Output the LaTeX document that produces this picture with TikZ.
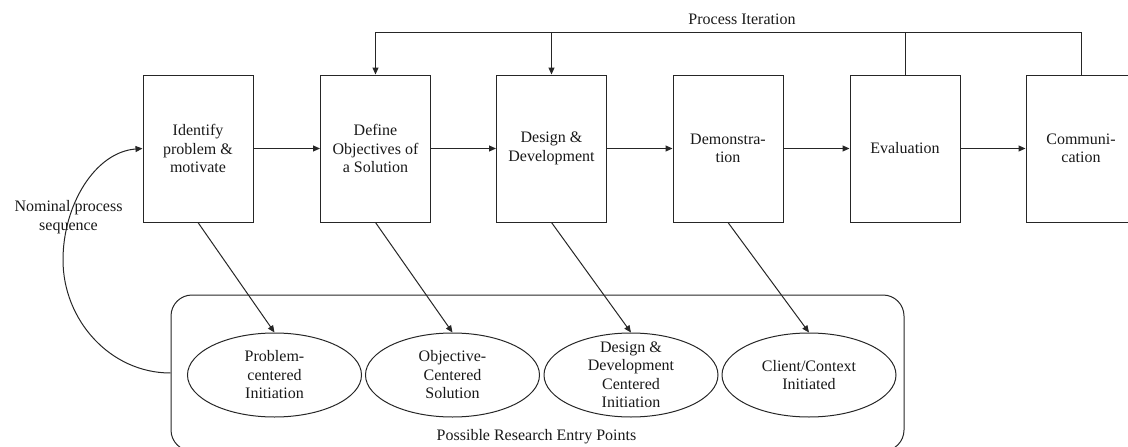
\documentclass[tikz,border=0pt]{standalone}
\usepackage{fontspec}
\setmainfont{Liberation Serif}
\usetikzlibrary{arrows.meta,shapes.geometric}
\begin{document}
\begin{tikzpicture}[x=1pt,y=-1pt,
  line width=1pt, draw=black!85,
  txt/.style={font=\fontsize{16pt}{18.5pt}\selectfont, align=center, inner sep=0pt, text=black!90},
  stage/.style={txt, draw, rectangle, minimum width=110pt, minimum height=147pt},
  entrypt/.style={draw, ellipse, minimum width=174pt, minimum height=84pt, inner sep=0pt},
  flow/.style={-{Triangle[length=7pt,width=6pt]}}]
\useasboundingbox (0,0) rectangle (1128,447);

% process stages
\node[stage] (b1) at (198,148.5)   {Identify\\problem \&\\motivate};
\node[stage] (b2) at (375.5,148.5) {Define\\Objectives of\\a Solution};
\node[stage] (b3) at (551.5,148.5) {Design \&\\Development};
\node[stage] (b4) at (728,148.5)   {Demonstra-\\tion};
\node[stage] (b5) at (905,148.5)   {Evaluation};
\node[stage] (b6) at (1081,148.5)  {Communi-\\cation};

\draw[flow] (b1.east) -- (b2.west);
\draw[flow] (b2.east) -- (b3.west);
\draw[flow] (b3.east) -- (b4.west);
\draw[flow] (b4.east) -- (b5.west);
\draw[flow] (b5.east) -- (b6.west);

% iteration loop along the top
\coordinate (iter) at (0,32);
\draw[flow] (b6.north) |- (b2.north |- iter) -- (b2.north);
\draw[flow] (b3.north |- iter) -- (b3.north);
\draw (b5.north) -- (b5.north |- iter);
\node[txt] (iterlabel) at (742,19) {Process Iteration};

% entry points
\node[draw, rounded corners=21pt, minimum width=733pt, minimum height=156pt, inner sep=0pt] (pool) at (537.5,373) {};
\node[txt] (poollabel) at (536.5,437) {Possible Research Entry Points};

\node[entrypt] (e1) at (274.5,375) {};
\node[entrypt] (e2) at (452.5,375) {};
\node[entrypt] (e3) at (631,375) {};
\node[entrypt] (e4) at (809,375) {};
\node[txt] (e1t) at (e1) {Problem-\\centered\\Initiation};
\node[txt] (e2t) at (e2) {Objective-\\Centered\\Solution};
\node[txt] (e3t) at (e3) {Design \&\\Development\\Centered\\Initiation};
\node[txt] (e4t) at (e4) {Client/Context\\Initiated};

\draw[flow] (b1.south) -- (e1.north);
\draw[flow] (b2.south) -- (e2.north);
\draw[flow] (b3.south) -- (e3.north);
\draw[flow] (b4.south) -- (e4.north);

% nominal sequence loop
\draw[flow] (pool.west) .. controls (110,373) and (63,320) .. (63,260)
  .. controls (63,205) and (95,152) .. (b1.west);
\node[txt] (nominal) at (68.5,217) {Nominal process\\sequence};
\end{tikzpicture}
\end{document}
